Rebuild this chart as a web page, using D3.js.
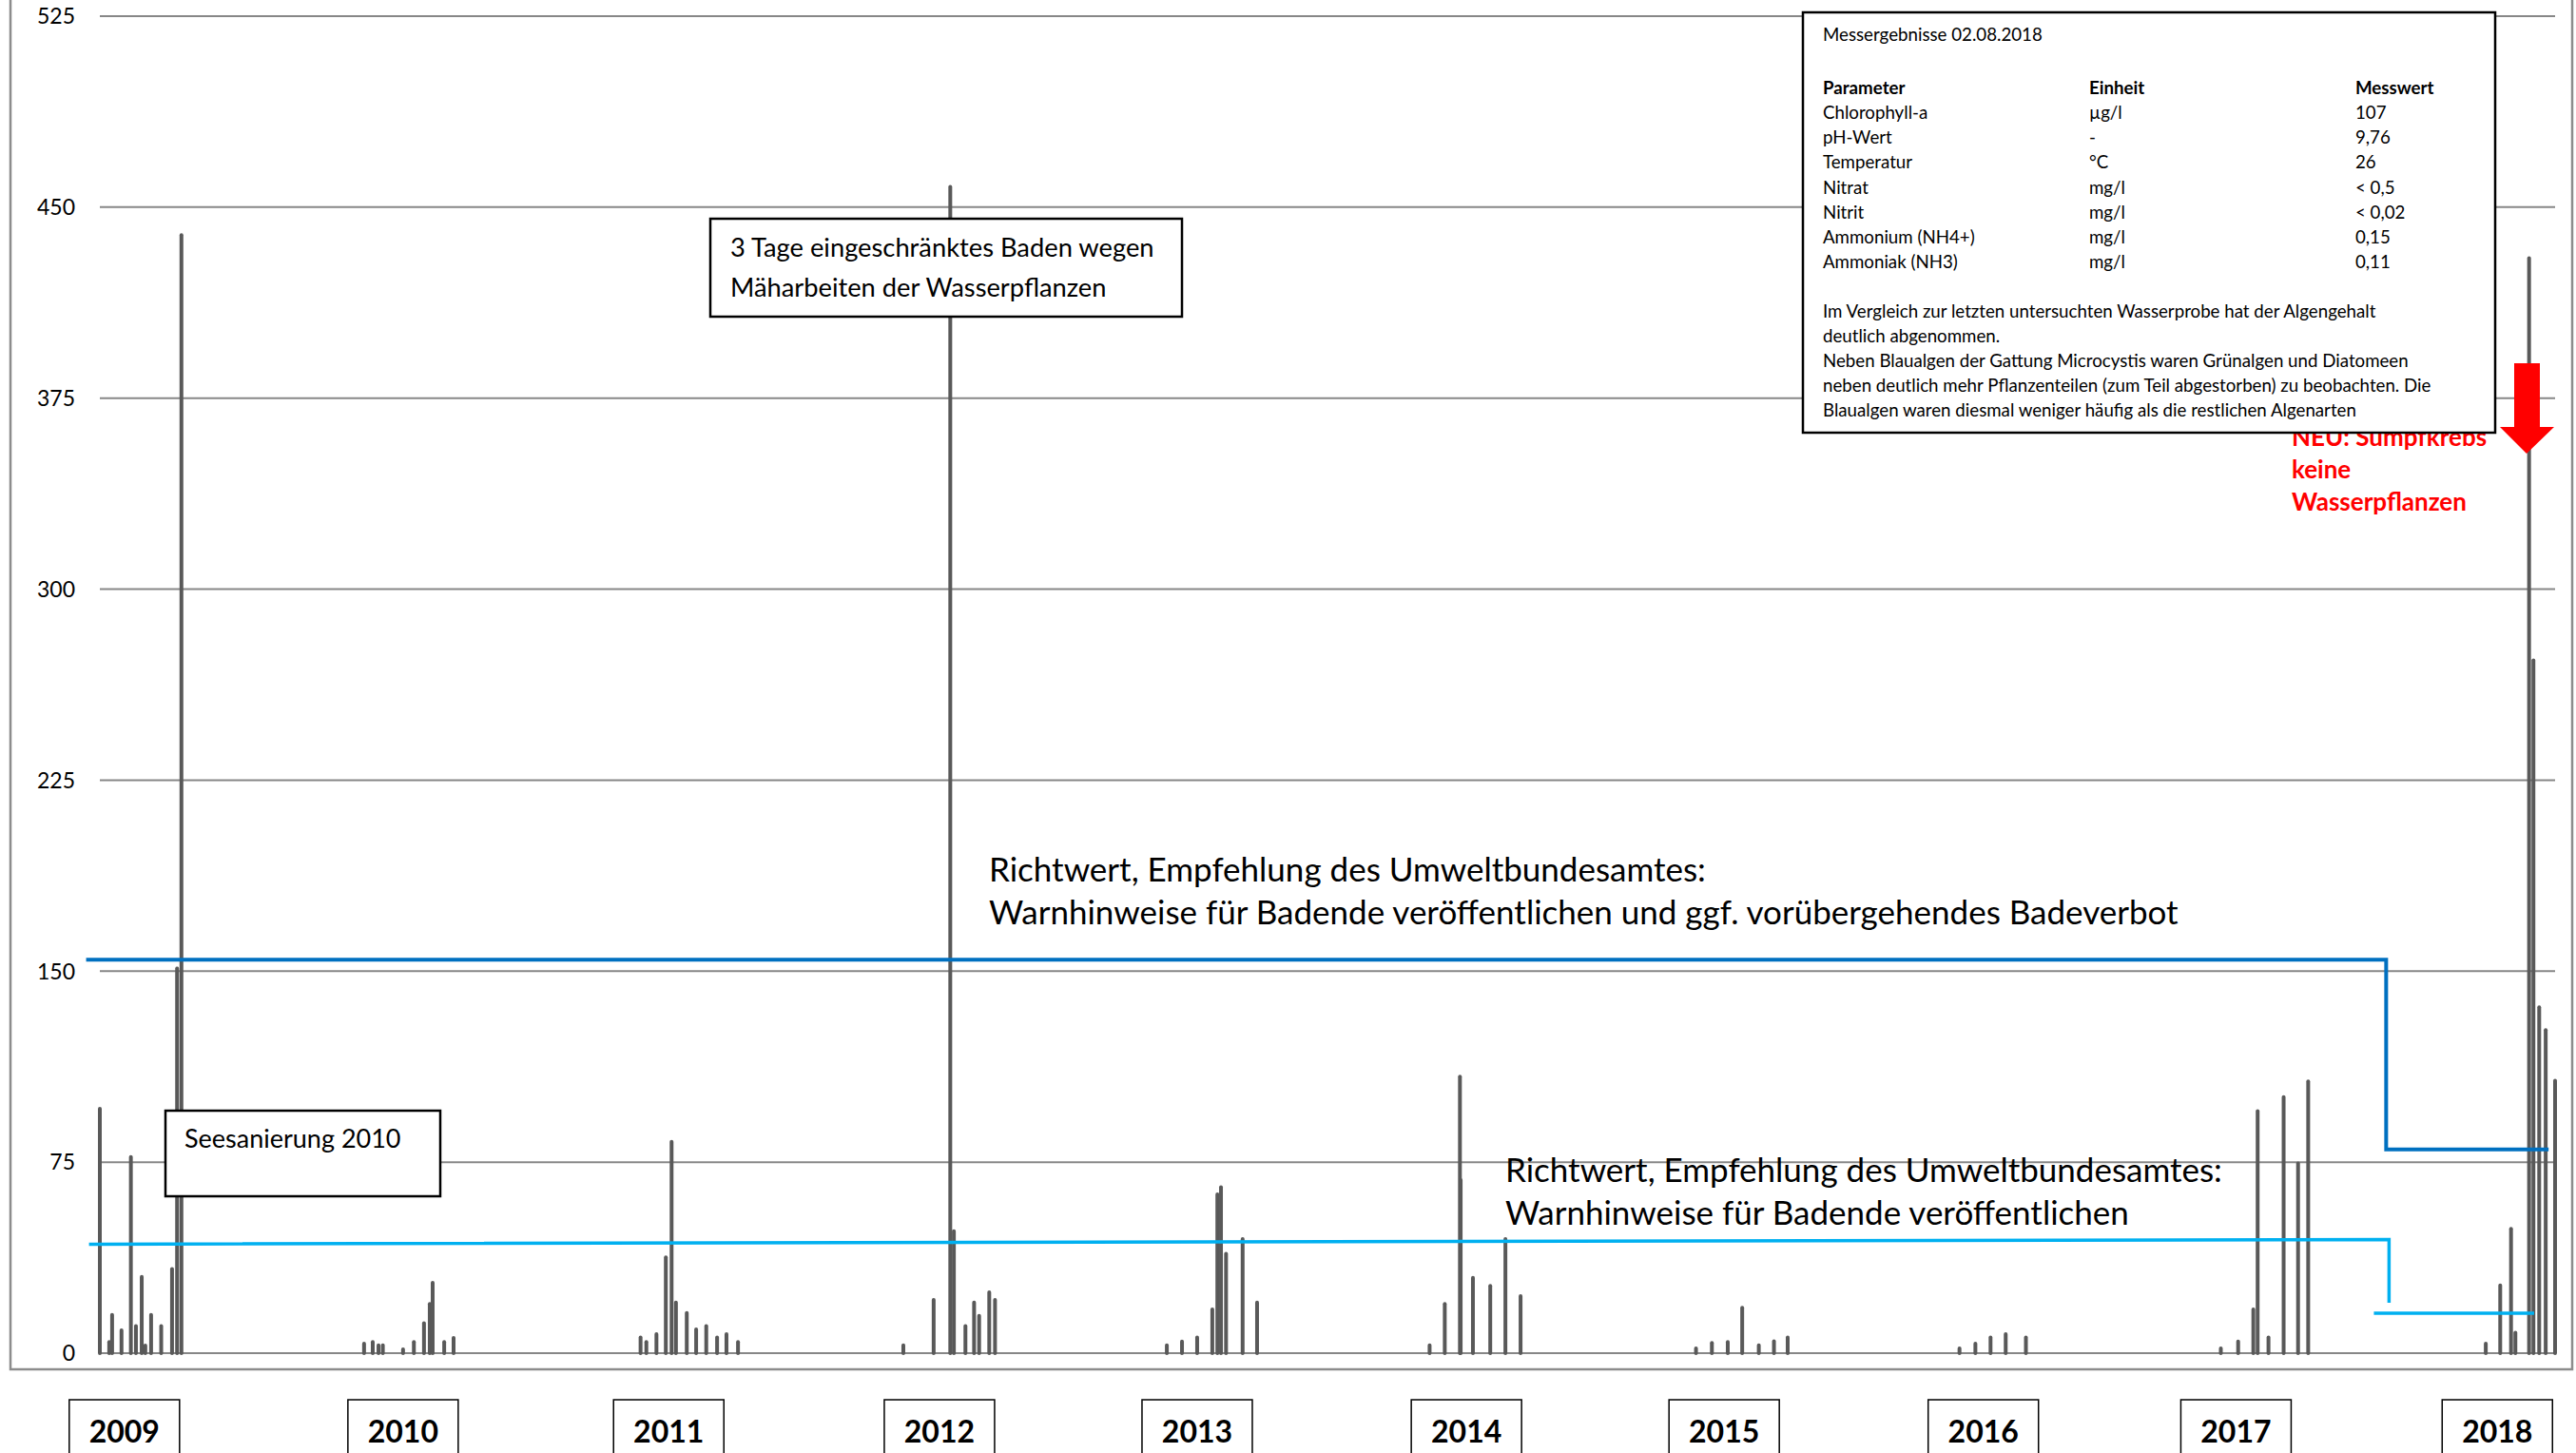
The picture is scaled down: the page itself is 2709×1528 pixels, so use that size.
<!DOCTYPE html>
<html>
<head>
<meta charset="utf-8">
<script src="https://cdn.jsdelivr.net/npm/d3@7"></script>
<style>
    body { margin: 0; background: #fff; }
    text { font-family: Lato, "Open Sans", sans-serif; }
</style>
</head>
<body>
<div id="chart"></div>
<script>
// Chlorophyll-a samples (µg/l)
const sampleDates = [
    "2009-04-10", "2009-04-23", "2009-04-27", "2009-05-10", "2009-05-23", "2009-05-30", "2009-06-07",
    "2009-06-12", "2009-06-20", "2009-07-04", "2009-07-19", "2009-07-26", "2009-08-01",
    "2010-04-11", "2010-04-23", "2010-05-01", "2010-05-07", "2010-06-04", "2010-06-19", "2010-07-03",
    "2010-07-11", "2010-07-15", "2010-07-31", "2010-08-13",
    "2011-04-29", "2011-05-07", "2011-05-21", "2011-06-03", "2011-06-11", "2011-06-17", "2011-07-02",
    "2011-07-15", "2011-07-29", "2011-08-13", "2011-08-26", "2011-09-11",
    "2012-04-27", "2012-06-08", "2012-07-01", "2012-07-06", "2012-07-22", "2012-08-03", "2012-08-10",
    "2012-08-24", "2012-09-01",
    "2013-04-27", "2013-05-18", "2013-06-08", "2013-06-29", "2013-07-06", "2013-07-11", "2013-07-18",
    "2013-08-10", "2013-08-30",
    "2014-04-26", "2014-05-17", "2014-06-07", "2014-06-08", "2014-06-25", "2014-07-19", "2014-08-09",
    "2014-08-30",
    "2015-04-30", "2015-05-22", "2015-06-13", "2015-07-03", "2015-07-26", "2015-08-16", "2015-09-04",
    "2016-04-29", "2016-05-21", "2016-06-11", "2016-07-02", "2016-07-30",
    "2017-04-26", "2017-05-20", "2017-06-10", "2017-06-16", "2017-07-01", "2017-07-22", "2017-08-11",
    "2017-08-25",
    "2018-04-28", "2018-05-18", "2018-06-02", "2018-06-08", "2018-06-27", "2018-07-03", "2018-07-11",
    "2018-07-20", "2018-08-02"
]
const chlorophyll = [
    96, 4.4, 15, 9, 77, 10.6, 30, 3, 15, 10.6, 33, 151, 439,
    3.7, 4.4, 3.1, 3.1, 1.5, 4.4, 11.8, 19.3, 27.6, 4.4, 6,
    6.2, 4.4, 7.5, 37.6, 83, 19.9, 15.8, 9.3, 10.6, 6.2, 7.5, 4.4,
    3.1, 20.9, 458, 47.9, 10.6, 19.9, 14.7, 23.9, 20.9,
    3.1, 4.6, 6.2, 17.2, 62.4, 65.2, 39, 44.8, 19.9,
    3.1, 19.3, 108.6, 68, 29.6, 26.4, 44.8, 22.4,
    1.9, 4, 4.4, 17.8, 3.1, 4.7, 6.2,
    1.9, 3.7, 6.2, 7.5, 6.2,
    1.9, 4.6, 17.2, 95, 6.2, 100.5, 74.5, 106.7,
    3.7, 26.6, 48.8, 8, 430, 272, 135.8, 126.9, 107
]

const yTicks = [0, 75, 150, 225, 300, 375, 450, 525]

const yearLabels = ["2009", "2010", "2011", "2012", "2013", "2014", "2015", "2016", "2017", "2018"]
const yearLabelDates = ["2009-05-14", "2010-06-04", "2011-06-07", "2012-06-16", "2013-06-08",
    "2014-06-16", "2015-06-08", "2016-06-01", "2017-05-17", "2018-05-14"]

// drawn guide values (Richtwerte)
const upperLimitDates = ["2009-03-22", "2017-12-11", "2017-12-11", "2018-07-24"]
const upperLimitValues = [154.5, 154.5, 80, 80]
const lowerLimitDates = ["2009-03-26", "2017-12-15", "2017-12-15"]
const lowerLimitValues = [42.8, 44.6, 19.8]
const lowerLimit2Dates = ["2017-11-24", "2018-07-04"]
const lowerLimit2Values = [15.7, 15.7]

// measurement box
const measTitle = "Messergebnisse 02.08.2018"
const measHeader = ["Parameter", "Einheit", "Messwert"]
const measParams = ["Chlorophyll-a", "pH-Wert", "Temperatur", "Nitrat", "Nitrit", "Ammonium (NH4+)", "Ammoniak (NH3)"]
const measUnits = ["µg/l", "-", "°C", "mg/l", "mg/l", "mg/l", "mg/l"]
const measValues = ["107", "9,76", "26", "< 0,5", "< 0,02", "0,15", "0,11"]
const measNotes = [
    "Im Vergleich zur letzten untersuchten Wasserprobe hat der Algengehalt",
    "deutlich abgenommen.",
    "Neben Blaualgen der Gattung Microcystis waren Grünalgen und Diatomeen",
    "neben deutlich mehr Pflanzenteilen (zum Teil abgestorben) zu beobachten. Die",
    "Blaualgen waren diesmal weniger häufig als die restlichen Algenarten"
]

class ChlVis {

    constructor(parentElement) {
        this.parentElement = parentElement
        this.parseDate = d3.timeParse("%Y-%m-%d")
        this.initVis()
    }

    initVis() {
        let vis = this

        vis.width = 2709
        vis.height = 1528

        vis.svg = d3.select("#" + vis.parentElement)
            .append("svg")
            .attr("width", vis.width)
            .attr("height", vis.height)

        vis.svg.append("rect")
            .attr("width", vis.width)
            .attr("height", vis.height)
            .attr("fill", "#fff")

        vis.data = sampleDates.map((d, i) => ({date: vis.parseDate(d), value: chlorophyll[i]}))

        vis.x = d3.scaleTime()
            .domain(d3.extent(vis.data, d => d.date))
            .range([105, 2687])

        vis.y = d3.scaleLinear()
            .domain([0, 525])
            .range([1423, 17])

        vis.updateVis()
    }

    updateVis() {
        let vis = this
        let x = vis.x, y = vis.y

        // outer chart frame
        vis.svg.append("rect")
            .attr("x", 11).attr("y", -4)
            .attr("width", 2694).attr("height", 1444)
            .attr("fill", "none")
            .attr("stroke", "#8c8c8c")
            .attr("stroke-width", 2.5)

        // horizontal gridlines
        vis.svg.append("g")
            .selectAll("line")
            .data(yTicks)
            .enter()
            .append("line")
            .attr("x1", x.range()[0])
            .attr("x2", x.range()[1])
            .attr("y1", d => y(d))
            .attr("y2", d => y(d))
            .attr("stroke", "#878787")
            .attr("stroke-width", 2)

        // y labels
        vis.svg.append("g")
            .selectAll("text")
            .data(yTicks)
            .enter()
            .append("text")
            .attr("x", 79)
            .attr("y", d => y(d))
            .attr("dy", "0.36em")
            .attr("text-anchor", "end")
            .attr("font-size", 23)
            .attr("fill", "#000")
            .text(d => d)

        // sample bars
        vis.svg.append("g")
            .selectAll("line")
            .data(vis.data)
            .enter()
            .append("line")
            .attr("x1", d => x(d.date))
            .attr("x2", d => x(d.date))
            .attr("y1", y(0))
            .attr("y2", d => y(d.value))
            .attr("stroke", "#595959")
            .attr("stroke-width", 4)
            .attr("stroke-linecap", "round")

        // Richtwert lines
        let line = d3.line().x(d => x(d[0])).y(d => y(d[1]))
        let toPts = (ds, vs) => ds.map((d, i) => [vis.parseDate(d), vs[i]])

        vis.svg.append("path")
            .attr("d", line(toPts(upperLimitDates, upperLimitValues)))
            .attr("fill", "none")
            .attr("stroke", "#0070C0")
            .attr("stroke-width", 4)

        vis.svg.append("path")
            .attr("d", line(toPts(lowerLimitDates, lowerLimitValues)))
            .attr("fill", "none")
            .attr("stroke", "#00B0F0")
            .attr("stroke-width", 3.5)

        vis.svg.append("path")
            .attr("d", line(toPts(lowerLimit2Dates, lowerLimit2Values)))
            .attr("fill", "none")
            .attr("stroke", "#00B0F0")
            .attr("stroke-width", 3.5)

        // annotation texts
        let multiText = (lines, tx, ty, lh, size, opts = {}) => {
            let t = vis.svg.append("text")
                .attr("font-size", size)
                .attr("fill", opts.fill || "#000")
                .attr("font-weight", opts.weight || "normal")
            lines.forEach((l, i) => {
                t.append("tspan").attr("x", tx).attr("y", ty + i * lh).text(l)
            })
            return t
        }

        multiText(["Richtwert, Empfehlung des Umweltbundesamtes:",
            "Warnhinweise für Badende veröffentlichen und ggf. vorübergehendes Badeverbot"], 1040, 927, 45, 35)
        multiText(["Richtwert, Empfehlung des Umweltbundesamtes:",
            "Warnhinweise für Badende veröffentlichen"], 1583, 1243, 45, 35)

        multiText(["NEU: Sumpfkrebs", "keine", "Wasserpflanzen"], 2410, 469, 34, 26,
            {fill: "#FF0000", weight: "bold"})

        // boxed notes
        let box = (bx, by, bw, bh) => vis.svg.append("rect")
            .attr("x", bx).attr("y", by)
            .attr("width", bw).attr("height", bh)
            .attr("fill", "#fff")
            .attr("stroke", "#000")
            .attr("stroke-width", 2.5)

        box(747, 230, 496, 103)
        multiText(["3 Tage eingeschränktes Baden wegen", "Mäharbeiten der Wasserpflanzen"], 768, 270, 42, 27.3)

        box(174, 1168, 289, 90)
        multiText(["Seesanierung 2010"], 194, 1207, 42, 27)

        // measurement box
        box(1896, 13, 728, 442)
        let fs = 18.7
        multiText([measTitle], 1917, 43, 26, fs)
        let cols = [1917, 2197, 2477]
        measHeader.forEach((h, i) => multiText([h], cols[i], 99, 26, fs, {weight: "bold"}))
        multiText(measParams, cols[0], 125, 26.2, fs)
        multiText(measUnits, cols[1], 125, 26.2, fs)
        multiText(measValues, cols[2], 125, 26.2, fs)
        multiText(measNotes, 1917, 334, 26, fs)

        // red arrow pointing at the 2018 peak
        vis.svg.append("path")
            .attr("d", "M2644,382 L2671,382 L2671,449 L2686,449 L2657,477 L2629,449 L2644,449 Z")
            .attr("fill", "#FF0000")

        // year label boxes below the plot
        let years = vis.svg.append("g")
            .selectAll("g")
            .data(yearLabels)
            .enter()
            .append("g")
            .attr("transform", (d, i) => `translate(${x(vis.parseDate(yearLabelDates[i]))},0)`)

        years.append("rect")
            .attr("x", -58).attr("y", 1472)
            .attr("width", 116).attr("height", 80)
            .attr("fill", "#fff")
            .attr("stroke", "#000")
            .attr("stroke-width", 1.5)

        years.append("text")
            .attr("y", 1517)
            .attr("text-anchor", "middle")
            .attr("font-size", 32)
            .attr("font-weight", "bold")
            .text(d => d)
    }
}

new ChlVis("chart")
</script>
</body>
</html>
